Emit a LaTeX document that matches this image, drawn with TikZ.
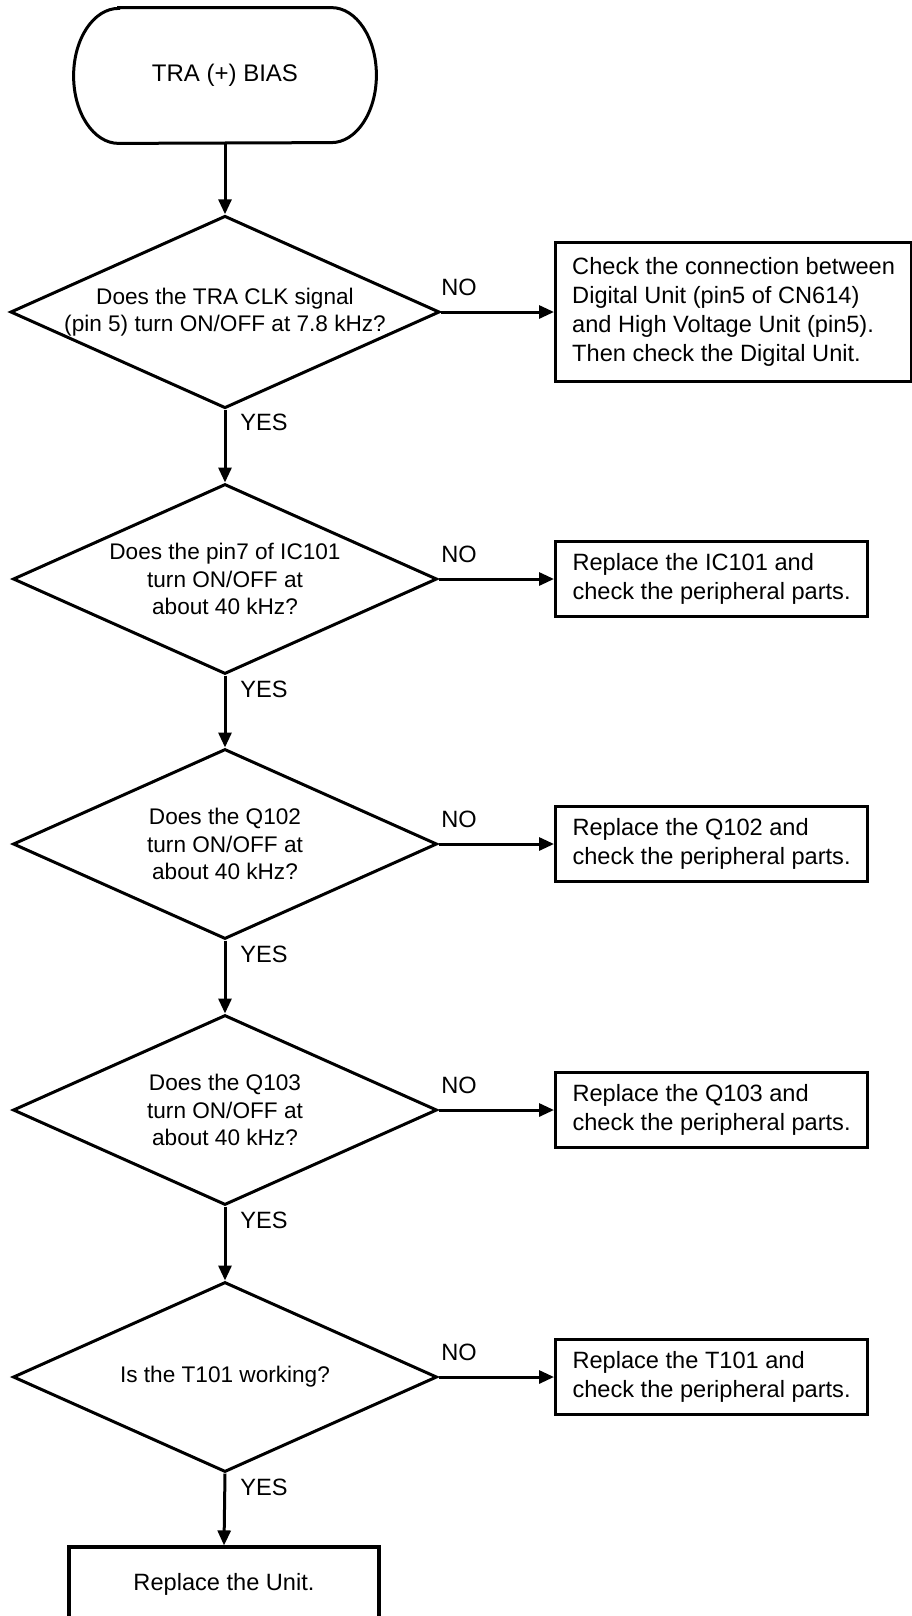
\documentclass[tikz,border=0pt]{standalone}
\usepackage{fontspec}
\setmainfont{Liberation Sans}
\usepackage{tikz}
\usetikzlibrary{shapes.geometric, arrows.meta, positioning}

\begin{document}
\begin{tikzpicture}[
    x=0.5pt, y=-0.5pt,
    term/.style={rectangle, minimum width=151pt, minimum height=67.5pt, inner sep=0pt, font=\fontsize{12}{14}\selectfont},
    decision/.style={diamond, draw, line width=1.5pt, aspect=2.23, minimum width=212pt, minimum height=95pt, inner sep=0pt, text centered, align=center, font=\fontsize{11.3}{13.6}\selectfont},
    box/.style={rectangle, draw, line width=1.6pt, anchor=west, align=left, inner xsep=8pt, font=\fontsize{11.8}{14.5}\selectfont},
    lbl/.style={inner sep=2pt, font=\fontsize{11.8}{14}\selectfont},
    arrow/.style={-{Triangle[length=7.5pt, width=6.5pt]}, line width=1.5pt}
]
    \useasboundingbox (0,0) rectangle (911,1616);

    % start
    \node[term] (start) at (225,75.5) {TRA (+) BIAS};
    \draw[line width=1.5pt] ([xshift=22.5pt]start.north west) -- ([xshift=-22.5pt]start.north east)
        arc[start angle=90, end angle=-90, x radius=22.5pt, y radius=33.75pt]
        -- ([xshift=22.5pt]start.south west)
        arc[start angle=270, end angle=90, x radius=22.5pt, y radius=33.75pt] -- cycle;

    % questions
    \node[decision] (q1) at (225,312) {Does the TRA CLK signal\\(pin 5) turn ON/OFF at 7.8 kHz?};
    \node[decision] (q2) at (225,579) {Does the pin7 of IC101\\turn ON/OFF at\\about 40 kHz?};
    \node[decision] (q3) at (225,844) {Does the Q102\\turn ON/OFF at\\about 40 kHz?};
    \node[decision] (q4) at (225,1110) {Does the Q103\\turn ON/OFF at\\about 40 kHz?};
    \node[decision] (q5) at (225,1377) {Is the T101 working?};

    % actions
    \node[box, minimum width=178pt, minimum height=69.5pt] (chk1) at (554,312) {Check the connection between\\Digital Unit (pin5 of CN614)\\and High Voltage Unit (pin5).\\Then check the Digital Unit.};
    \node[box, minimum width=156pt, minimum height=37.5pt] (chk2) at (554,579) {Replace the IC101 and\\check the peripheral parts.};
    \node[box, minimum width=156pt, minimum height=37.5pt] (chk3) at (554,844) {Replace the Q102 and\\check the peripheral parts.};
    \node[box, minimum width=156pt, minimum height=37.5pt] (chk4) at (554,1110) {Replace the Q103 and\\check the peripheral parts.};
    \node[box, minimum width=156pt, minimum height=37.5pt] (chk5) at (554,1377) {Replace the T101 and\\check the peripheral parts.};
    \node[box, anchor=center, align=center, minimum width=155pt, minimum height=37pt] (unit) at (224,1584) {Replace the Unit.};

    % labels
    \node[lbl] (no1) at (459,287) {NO};
    \node[lbl] (no2) at (459,554) {NO};
    \node[lbl] (no3) at (459,819) {NO};
    \node[lbl] (no4) at (459,1085) {NO};
    \node[lbl] (no5) at (459,1352) {NO};
    \node[lbl, anchor=west] (yes1) at (236,422) {YES};
    \node[lbl, anchor=west] (yes2) at (236,689) {YES};
    \node[lbl, anchor=west] (yes3) at (236,954) {YES};
    \node[lbl, anchor=west] (yes4) at (236,1220) {YES};
    \node[lbl, anchor=west] (yes5) at (236,1487) {YES};

    \draw[arrow] (start.south) -- (q1.north);
    \draw[arrow] (q1.south) -- (q2.north);
    \draw[arrow] (q2.south) -- (q3.north);
    \draw[arrow] (q3.south) -- (q4.north);
    \draw[arrow] (q4.south) -- (q5.north);
    \draw[arrow] (q5.south) -- (unit.north);

    \draw[arrow] (q1.east) -- (chk1.west);
    \draw[arrow] (q2.east) -- (chk2.west);
    \draw[arrow] (q3.east) -- (chk3.west);
    \draw[arrow] (q4.east) -- (chk4.west);
    \draw[arrow] (q5.east) -- (chk5.west);
\end{tikzpicture}
\end{document}
